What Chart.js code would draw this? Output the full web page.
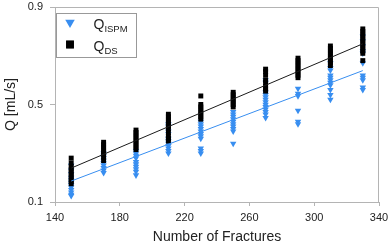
<!DOCTYPE html>
<html>
<head>
<meta charset="utf-8">
<script src="https://cdn.jsdelivr.net/npm/chart.js@4/dist/chart.umd.min.js"></script>
<style>
  html, body { margin: 0; padding: 0; background: #fff; }
  #wrap { width: 391px; height: 247px; }
</style>
</head>
<body>
<div id="wrap"><canvas id="fracChart"></canvas></div>
<script>
// number of fractures (x positions of the columns)
const fractures = [150, 170, 190, 210, 230, 250, 270, 290, 310, 330];

// Q_ISPM values per column [mL/s]
const qIspm = [
  [0.25, 0.23, 0.215, 0.2, 0.19, 0.18, 0.17, 0.16, 0.15, 0.14, 0.13, 0.125],
  [0.3, 0.29, 0.28, 0.27, 0.26, 0.25, 0.24, 0.23, 0.22],
  [0.31, 0.3, 0.29, 0.28, 0.265, 0.255, 0.245, 0.235, 0.225, 0.21],
  [0.42, 0.41, 0.39, 0.38, 0.36, 0.35, 0.34, 0.33, 0.32, 0.31, 0.3],
  [0.43, 0.42, 0.41, 0.4, 0.39, 0.38, 0.37, 0.36, 0.32, 0.31, 0.3],
  [0.47, 0.46, 0.45, 0.44, 0.43, 0.42, 0.41, 0.4, 0.39, 0.34],
  [0.6, 0.59, 0.55, 0.54, 0.53, 0.52, 0.51, 0.5, 0.49, 0.48, 0.47, 0.46, 0.445],
  [0.565, 0.545, 0.535, 0.475, 0.43, 0.42],
  [0.67, 0.65, 0.64, 0.62, 0.61, 0.6, 0.59, 0.58, 0.56, 0.54, 0.52],
  [0.78, 0.76, 0.74, 0.72, 0.71, 0.67, 0.62, 0.61, 0.6, 0.57, 0.56]
];

// Q_DS values per column [mL/s]
const qDs = [
  [0.28, 0.26, 0.245, 0.235, 0.225, 0.215, 0.205, 0.195, 0.185, 0.175],
  [0.345, 0.335, 0.325, 0.315, 0.305, 0.295, 0.285, 0.27],
  [0.395, 0.385, 0.375, 0.365, 0.355, 0.345, 0.335, 0.325, 0.315],
  [0.46, 0.45, 0.44, 0.43, 0.42, 0.41, 0.4, 0.385, 0.37, 0.36, 0.35],
  [0.535, 0.5, 0.49, 0.48, 0.47, 0.46, 0.45, 0.44],
  [0.55, 0.54, 0.53, 0.52, 0.51, 0.5, 0.49],
  [0.645, 0.635, 0.62, 0.6, 0.59, 0.575, 0.565, 0.555],
  [0.69, 0.68, 0.67, 0.66, 0.65, 0.64, 0.63, 0.62, 0.61],
  [0.74, 0.73, 0.72, 0.71, 0.7, 0.69, 0.68, 0.67, 0.66],
  [0.81, 0.8, 0.79, 0.78, 0.77, 0.76, 0.75, 0.74, 0.73, 0.72, 0.71, 0.68]
];

// linear fits (start / end of the fracture range)
const fitX = [150, 330];
const fitIspm = [0.186, 0.639];
const fitDs = [0.239, 0.749];

const xTicks = [140, 180, 220, 260, 300, 340];
const yTicks = [0.1, 0.5, 0.9];

const blue = "rgb(56, 142, 240)";
const axisGrey = "#b4b4b4";
const textCol = "#222";

function toPoints(cols) {
  let pts = [];
  cols.forEach((vals, i) => {
    vals.forEach((v) => pts.push({ x: fractures[i], y: v }));
  });
  return pts;
}

function fitPoints(ys) {
  return fitX.map((x, i) => ({ x: x, y: ys[i] }));
}

// frame on top/right and the legend box with subscripts
const frameAndLegend = {
  id: "frameAndLegend",
  afterDraw(chart) {
    const ctx = chart.ctx;
    const a = chart.chartArea;
    ctx.save();
    ctx.strokeStyle = axisGrey;
    ctx.lineWidth = 1;
    ctx.beginPath();
    ctx.moveTo(Math.round(a.left) - 0.5, Math.round(a.top) + 0.5);
    ctx.lineTo(Math.round(a.right) - 0.5, Math.round(a.top) + 0.5);
    ctx.lineTo(Math.round(a.right) - 0.5, Math.round(a.bottom) + 0.5);
    ctx.stroke();

    // legend
    const bx = a.left + 1.5, by = a.top + 6.5, bw = 80, bh = 44;
    ctx.fillStyle = "#fff";
    ctx.fillRect(bx, by, bw, bh);
    ctx.strokeStyle = "#999";
    ctx.strokeRect(bx, by, bw, bh);

    const entries = [
      { sub: "ISPM", style: "triangle", rot: 180, r: 5.5, col: blue, y: by + 9 },
      { sub: "DS", style: "rect", rot: 0, r: 5.5, col: "#000", y: by + 31 }
    ];
    entries.forEach((e) => {
      Chart.helpers.drawPoint(ctx, {
        pointStyle: e.style, rotation: e.rot, radius: e.r, borderWidth: 0
      }, bx + 13.5, e.y);
      ctx.fillStyle = e.col;
      ctx.fill();
      ctx.fillStyle = textCol;
      ctx.textBaseline = "alphabetic";
      ctx.font = "14px 'Liberation Sans', Arial, sans-serif";
      const qx = bx + 37;
      ctx.fillText("Q", qx, e.y + 6);
      const qw = ctx.measureText("Q").width;
      ctx.font = "9.5px 'Liberation Sans', Arial, sans-serif";
      ctx.fillText(e.sub, qx + qw, e.y + 9);
    });
    ctx.restore();
  }
};

const config = {
  type: "scatter",
  data: {
    datasets: [
      {
        label: "fit DS",
        type: "line",
        data: fitPoints(fitDs),
        borderColor: "#1a1a1a",
        borderWidth: 1,
        pointRadius: 0,
        fill: false,
        order: 0
      },
      {
        label: "fit ISPM",
        type: "line",
        data: fitPoints(fitIspm),
        borderColor: blue,
        borderWidth: 1,
        pointRadius: 0,
        fill: false,
        order: 1
      },
      {
        label: "Q_DS",
        data: toPoints(qDs),
        pointStyle: "rect",
        pointRadius: 3.5,
        borderWidth: 0,
        backgroundColor: "#000",
        order: 2
      },
      {
        label: "Q_ISPM",
        data: toPoints(qIspm),
        pointStyle: "triangle",
        rotation: 180,
        pointRadius: 3.7,
        borderWidth: 0,
        backgroundColor: blue,
        order: 3
      }
    ]
  },
  options: {
    responsive: true,
    maintainAspectRatio: false,
    animation: false,
    layout: { autoPadding: false, padding: { top: 7, right: 12, left: 0, bottom: 0 } },
    plugins: {
      legend: { display: false },
      tooltip: { enabled: false }
    },
    scales: {
      x: {
        type: "linear",
        min: 140,
        max: 340,
        afterBuildTicks: (s) => { s.ticks = xTicks.map((v) => ({ value: v })); },
        afterFit: (s) => { s.height = 45; s.paddingLeft = 0; s.paddingRight = 0; },
        ticks: {
          color: textCol,
          font: { family: "'Liberation Sans', Arial, sans-serif", size: 11 },
          padding: 5,
          maxRotation: 0
        },
        grid: { drawOnChartArea: false, drawTicks: true, tickLength: 4, color: axisGrey },
        border: { color: axisGrey },
        title: {
          display: true,
          text: "Number of Fractures",
          color: textCol,
          font: { family: "'Liberation Sans', Arial, sans-serif", size: 14 },
          padding: { top: 0, bottom: 1 }
        }
      },
      y: {
        type: "linear",
        min: 0.1,
        max: 0.9,
        afterBuildTicks: (s) => { s.ticks = yTicks.map((v) => ({ value: v })); },
        afterFit: (s) => { s.width = 55; s.paddingTop = 0; s.paddingBottom = 0; },
        ticks: {
          color: textCol,
          font: { family: "'Liberation Sans', Arial, sans-serif", size: 11 },
          padding: 7,
          callback: (v) => v.toFixed(1)
        },
        grid: { drawOnChartArea: false, drawTicks: true, tickLength: 5, color: axisGrey },
        border: { color: axisGrey },
        title: {
          display: true,
          text: "Q [mL/s]",
          color: textCol,
          font: { family: "'Liberation Sans', Arial, sans-serif", size: 14 },
          padding: { top: 3, bottom: 0 }
        }
      }
    }
  },
  plugins: [frameAndLegend]
};

const fracChart = new Chart(document.getElementById("fracChart"), config);
</script>
</body>
</html>
